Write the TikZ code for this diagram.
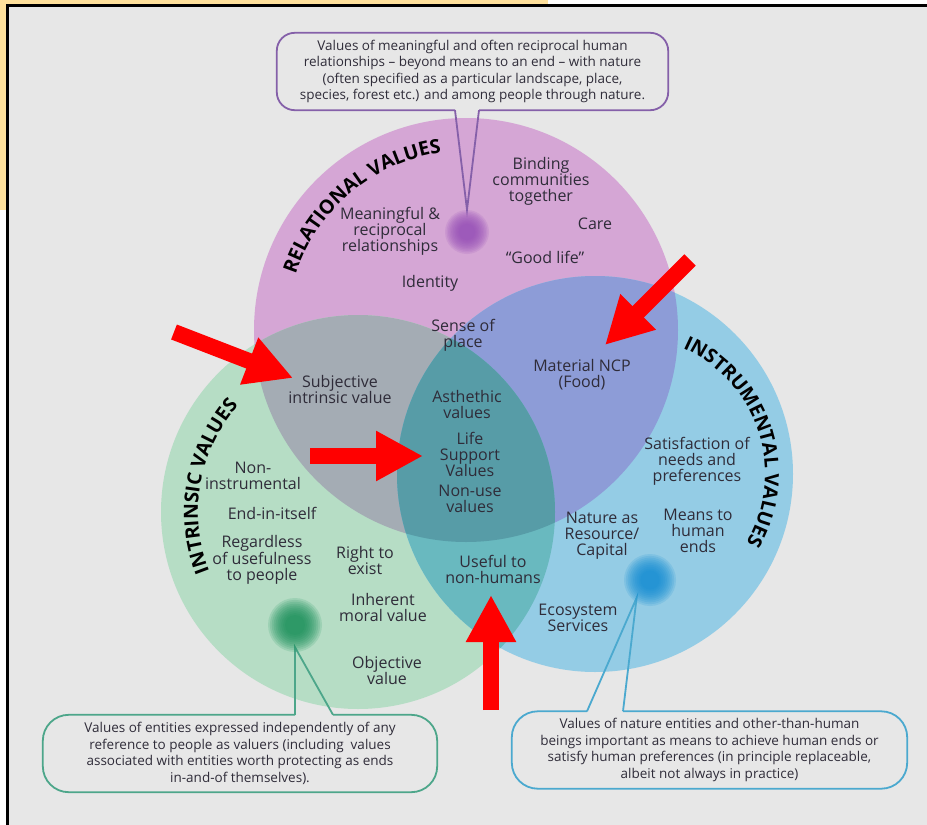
\documentclass[tikz,border=0pt]{standalone}
\usepackage{fontspec}
\setmainfont{Open Sans}
\usepackage{tikz}
\usetikzlibrary{arrows.meta,calc,decorations.text}
\definecolor{slideYellow}{HTML}{FFE19C}
\definecolor{panelGrey}{HTML}{E7E7E7}
\definecolor{relationalFill}{HTML}{D5A6D5}
\definecolor{intrinsicFill}{HTML}{B6DDC5}
\definecolor{instrumentalFill}{HTML}{94CCE5}
\definecolor{relIntFill}{HTML}{A4ACB4}
\definecolor{relInsFill}{HTML}{8D9CD7}
\definecolor{intInsFill}{HTML}{69B9BF}
\definecolor{allThreeFill}{HTML}{579CA7}
\definecolor{relationalLine}{HTML}{8560A9}
\definecolor{intrinsicLine}{HTML}{4DA68A}
\definecolor{instrumentalLine}{HTML}{4BA9CF}
\definecolor{relationalDot}{HTML}{9148B5}
\definecolor{intrinsicDot}{HTML}{0B8A50}
\definecolor{instrumentalDot}{HTML}{0A88D2}
\definecolor{labelText}{HTML}{2F2C39}
\definecolor{pointerRed}{HTML}{FF0000}
\newcommand\relationalDisc{(466,330) circle (212)}
\newcommand\intrinsicDisc{(358,512) circle (197)}
\newcommand\instrumentalDisc{(595,474) circle (198)}
\newcommand\titleFont{\fontsize{19.5}{20}\selectfont\bfseries}

\begin{document}
\begin{tikzpicture}[
  x=1pt,
  y=-1pt,
  valueText/.style={
    font=\fontsize{16}{16}\selectfont,
    align=center,
    text=labelText,
    inner sep=0pt,
  },
  titleText/.style={
    decorate,
    decoration={text along path, text align=center},
  },
  noteText/.style={
    font=\fontsize{13.5}{16.5}\selectfont,
    align=center,
    text=labelText,
    inner sep=0pt,
    minimum height=77pt,
  },
  noteBorder/.style={
    line width=1.8pt,
  },
  dotSpot/.style={
    circle,
    inner sep=0pt,
    minimum size=44pt,
  },
  redArrow/.style={
    pointerRed,
    line width=16pt,
    -{Triangle[length=47pt,width=47pt]},
  },
]
\useasboundingbox (0,0) rectangle (927,825);
\fill[white] (0,0) rectangle (927,825);
\fill[slideYellow] (0,0) rectangle (548,210);
\fill[panelGrey] (7,5) rectangle (927,825);
\draw[black, line width=3.5pt] (7.5,825) -- (7.5,5.5) -- (927,5.5);

\fill[relationalFill] \relationalDisc;
\fill[intrinsicFill] \intrinsicDisc;
\fill[instrumentalFill] \instrumentalDisc;
\begin{scope}
  \clip \relationalDisc;
  \fill[relIntFill] \intrinsicDisc;
  \fill[relInsFill] \instrumentalDisc;
\end{scope}
\begin{scope}
  \clip \intrinsicDisc;
  \fill[intInsFill] \instrumentalDisc;
\end{scope}
\begin{scope}
  \clip \relationalDisc;
  \clip \intrinsicDisc;
  \fill[allThreeFill] \instrumentalDisc;
\end{scope}

\coordinate (relC) at (466,330);
\coordinate (intC) at (358,512);
\coordinate (insC) at (628,474);
\path[titleText, decoration={text={|\titleFont|RELATIONAL VALUES}}]
  ($(relC)+(185:179)$) arc[start angle=185, end angle=275, radius=179];
\path[titleText, decoration={text={|\titleFont|INTRINSIC VALUES}}]
  ($(intC)+(145:160)$) arc[start angle=145, end angle=235, radius=160];
\path[titleText, decoration={text={|\titleFont|INSTRUMENTAL VALUES}}]
  ($(insC)+(272:137)$) arc[start angle=272, end angle=412, radius=137];

\node[valueText] (binding) at (541,181) {Binding\\communities\\together};
\node[valueText] (meaningful) at (390,231) {Meaningful \&\\reciprocal\\relationships};
\node[valueText] (care) at (595,224) {Care};
\node[valueText] (goodLife) at (545,257) {``Good life''};
\node[valueText] (identity) at (430,283) {Identity};
\node[valueText] (senseOfPlace) at (463,335) {Sense of\\place};
\node[valueText] (subjective) at (340,389) {Subjective\\intrinsic value};
\node[valueText] (aesthetic) at (467,404) {Asthethic\\values};
\node[valueText] (lifeSupport) at (470,454) {Life\\Support\\Values};
\node[valueText] (nonUse) at (470,499) {Non-use\\values};
\node[valueText] (nonInstrumental) at (253,476) {Non-\\instrumental};
\node[valueText] (endInItself) at (272,513) {End-in-itself};
\node[valueText] (regardless) at (262,560) {Regardless\\of usefulness\\to people};
\node[valueText] (rightToExist) at (365,560) {Right to\\exist};
\node[valueText] (inherentMoral) at (383,607) {Inherent\\moral value};
\node[valueText] (objective) at (387,670) {Objective\\value};
\node[valueText] (usefulNonHumans) at (493,569) {Useful to\\non-humans};
\node[valueText] (materialNcp) at (582,375) {Material NCP\\(Food)};
\node[valueText] (satisfaction) at (697,461) {Satisfaction of\\needs and\\preferences};
\node[valueText] (meansToEnds) at (698,531) {Means to\\human\\ends};
\node[valueText] (natureResource) at (602,536) {Nature as\\Resource/\\Capital};
\node[valueText] (ecosystemServices) at (578,618) {Ecosystem\\Services};

\node[dotSpot] (relDot) at (467,232) {};
\node[dotSpot] (intDot) at (295,625) {};
\node[dotSpot] (insDot) at (650,580) {};

\node[noteText, minimum width=391pt] (relNote) at (472.5,71.5)
  {Values of meaningful and often reciprocal human\\relationships -- beyond means to an end -- with nature\\(often specified as a particular landscape, place,\\species, forest etc.) and among people through nature.};
\node[noteText, minimum width=394pt] (intNote) at (240,753.5)
  {Values of entities expressed independently of any\\reference to people as valuers (including\ \ values\\associated with entities worth protecting as ends\\in-and-of themselves).};
\node[noteText, minimum width=395pt] (insNote) at (709.5,750)
  {Values of nature entities and other-than-human\\beings important as means to achieve human ends or\\satisfy human preferences (in principle replaceable,\\albeit not always in practice)};

\coordinate (relGapL) at ($(relNote.south)+(-17.5,0)$);
\coordinate (relGapR) at ($(relNote.south)+(6.5,0)$);
\coordinate (intGapL) at ($(intNote.north)+(55,0)$);
\coordinate (intGapR) at ($(intNote.north)+(93,0)$);
\coordinate (insGapL) at ($(insNote.north)+(-122.5,0)$);
\coordinate (insGapR) at ($(insNote.north)+(-86.5,0)$);

\draw[relationalLine, noteBorder, rounded corners=18pt]
  (relGapR) -| (relNote.north east) -| (relNote.south west) -- (relGapL);
\draw[relationalLine, noteBorder] (relGapL) -- (relDot.north) -- (relGapR);
\draw[intrinsicLine, noteBorder, rounded corners=26pt]
  (intGapR) -| (intNote.south east) -| (intNote.north west) -- (intGapL);
\draw[intrinsicLine, noteBorder] (intGapL) -- (intDot.south) -- (intGapR);
\draw[instrumentalLine, noteBorder, rounded corners=26pt]
  (insGapR) -| (insNote.south east) -| (insNote.north west) -- (insGapL);
\draw[instrumentalLine, noteBorder] (insGapL) -- (insDot.233) -- (insGapR);

\foreach \dotName/\dotColour/\dotSize in {relDot/relationalDot/22, intDot/intrinsicDot/27, insDot/instrumentalDot/26}{
  \foreach \glowStep in {1,0.93,...,0.3}{
    \fill[\dotColour, opacity=0.14] (\dotName) circle ({\dotSize*\glowStep});
  }
}

\coordinate (arrowOneTail) at (174,332);
\coordinate (arrowOneTip) at (293,378);
\coordinate (arrowTwoTail) at (310,456);
\coordinate (arrowTwoTip) at (423,456);
\coordinate (arrowThreeTail) at (690,260);
\coordinate (arrowThreeTip) at (605,345);
\coordinate (arrowFourTail) at (491,710);
\coordinate (arrowFourTip) at (491,595);
\draw[redArrow] (arrowOneTail) -- (arrowOneTip);
\draw[redArrow] (arrowTwoTail) -- (arrowTwoTip);
\draw[redArrow] (arrowThreeTail) -- (arrowThreeTip);
\draw[redArrow] (arrowFourTail) -- (arrowFourTip);
\end{tikzpicture}
\end{document}
